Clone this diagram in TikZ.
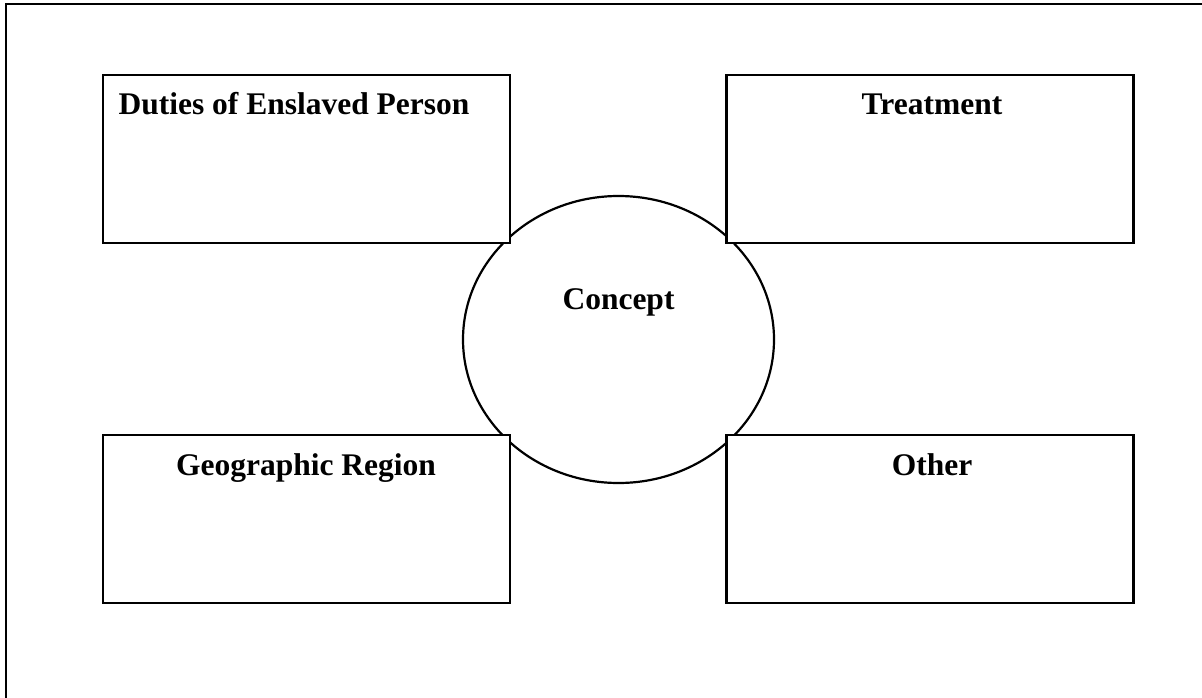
\documentclass[tikz,border=0pt]{standalone}
\usepackage{fontspec}
\setmainfont{Liberation Serif}
\usetikzlibrary{shapes.geometric}
\usetikzlibrary{positioning}

\begin{document}
\begin{tikzpicture}
		[x=1pt,y=-1pt,line width=2.2pt,
		box/.style={rectangle,draw,fill=white,minimum width=407pt,minimum height=168pt,inner sep=0pt},
		lbl/.style={anchor=base,inner sep=0pt,font=\fontsize{31.5}{36}\selectfont\bfseries}]
		\useasboundingbox (0,0) rectangle (1202,698);
		\draw (6,698) -- (6,4) -- (1202,4);
		
		\node (c) at (618.5,339.5) [ellipse,draw,minimum width=311pt,minimum height=287pt,inner sep=0pt] {};
		
		\foreach \n/\x/\y in 
		{duty/306.5/159, treat/930/159, geo/306.5/519, other/930/519}
		\node[box] (\n) at (\x,\y) {};
		
		\node[lbl] (tc) at (618.5,309) {Concept};
		\node[lbl] (tduty) at (294,115) {Duties of Enslaved Person};
		\node[lbl] (ttreat) at (932,115) {Treatment};
		\node[lbl] (tgeo) at (306,475) {Geographic Region};
		\node[lbl] (tother) at (932,475) {Other};
		\end{tikzpicture}
\end{document}
